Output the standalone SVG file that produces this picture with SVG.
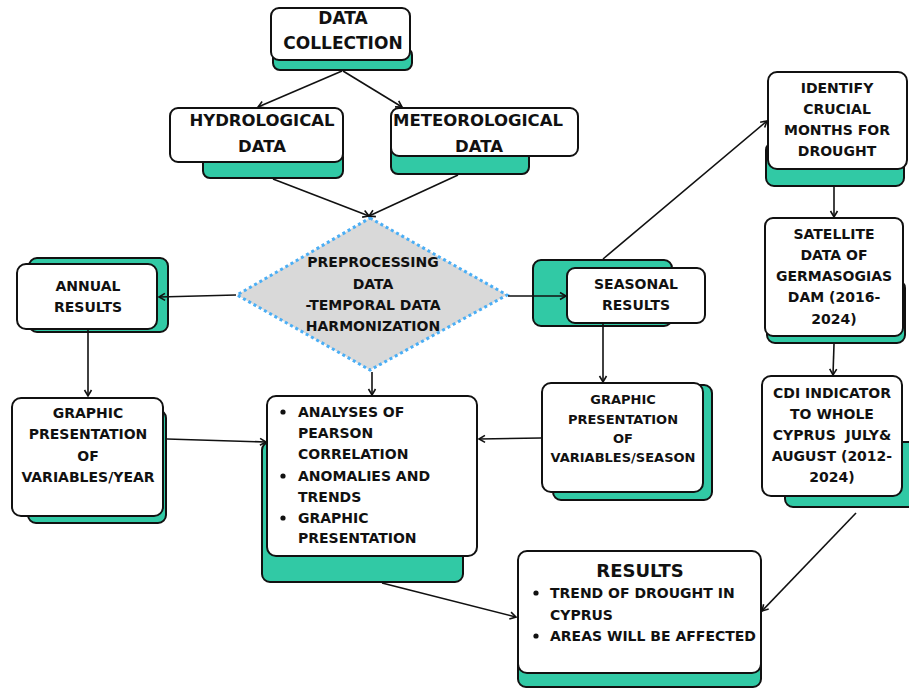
<svg xmlns="http://www.w3.org/2000/svg" width="909" height="688" viewBox="0 0 909 688">
<defs>
<marker id="ah" markerWidth="10" markerHeight="10" refX="8" refY="5" orient="auto" markerUnits="userSpaceOnUse">
<path d="M2,1.5 L8,5 L2,8.5" fill="none" stroke="#111" stroke-width="1.6"/>
</marker>
<style>
.g{fill:#31c9a5;stroke:#111;stroke-width:2}
.w{fill:#fff;stroke:#111;stroke-width:2}
.t{font-family:"DejaVu Sans",sans-serif;font-weight:bold;font-size:14px;fill:#111;text-anchor:middle}
.l{text-anchor:start}
.c{fill:none;stroke:#111;stroke-width:1.6}
</style>
</defs>
<rect width="909" height="688" fill="#fff"/>

<g id="data-collection">
<rect class="g" x="273" y="48" width="139" height="22" rx="7"/>
<rect class="w" x="271" y="8" width="139" height="52" rx="8"/>
<text class="t" x="343" y="24" style="font-size:17px">DATA</text>
<text class="t" x="343" y="49" style="font-size:17px">COLLECTION</text>
</g>

<g id="hydrological">
<rect class="g" x="203" y="150" width="140" height="28" rx="7"/>
<rect class="w" x="170" y="108" width="173" height="54" rx="8"/>
<text class="t" x="262" y="126" style="font-size:16.5px">HYDROLOGICAL</text>
<text class="t" x="262" y="152" style="font-size:16.5px">DATA</text>
</g>

<g id="meteorological">
<rect class="g" x="391" y="140" width="138" height="34" rx="7"/>
<rect class="w" x="391" y="108" width="187" height="48" rx="8"/>
<text class="t" x="478" y="126" style="font-size:16.5px">METEOROLOGICAL</text>
<text class="t" x="479" y="152" style="font-size:16.5px">DATA</text>
</g>

<g id="preprocessing">
<polygon points="370,218 507,295 370,370 237,295" fill="#d9d9d9" stroke="#4aaef5" stroke-width="3" stroke-dasharray="3 3"/>
<text class="t" x="373" y="267">PREPROCESSING</text>
<text class="t" x="373" y="289">DATA</text>
<text class="t" x="373" y="310">-TEMPORAL DATA</text>
<text class="t" x="373" y="331">HARMONIZATION</text>
</g>

<g id="annual">
<rect class="g" x="29" y="258" width="139" height="74" rx="8"/>
<rect class="w" x="17" y="264" width="140" height="65" rx="9"/>
<text class="t" x="88" y="291">ANNUAL</text>
<text class="t" x="88" y="312">RESULTS</text>
</g>

<g id="seasonal">
<rect class="g" x="533" y="260" width="139" height="66" rx="8"/>
<rect class="w" x="567" y="268" width="138" height="55" rx="8"/>
<text class="t" x="636" y="289">SEASONAL</text>
<text class="t" x="636" y="310">RESULTS</text>
</g>

<g id="identify">
<rect class="g" x="766" y="142" width="138" height="44" rx="8"/>
<rect class="w" x="768" y="72" width="139" height="97" rx="9"/>
<text class="t" x="837" y="93">IDENTIFY</text>
<text class="t" x="837" y="114">CRUCIAL</text>
<text class="t" x="837" y="135">MONTHS FOR</text>
<text class="t" x="837" y="156">DROUGHT</text>
</g>

<g id="satellite">
<rect class="g" x="767" y="280" width="138" height="63" rx="8"/>
<rect class="w" x="765" y="218" width="138" height="118" rx="8"/>
<text class="t" x="834" y="239">SATELLITE</text>
<text class="t" x="834" y="260">DATA OF</text>
<text class="t" x="834" y="281">GERMASOGIAS</text>
<text class="t" x="834" y="302">DAM (2016-</text>
<text class="t" x="834" y="324">2024)</text>
</g>

<g id="cdi">
<rect class="g" x="785" y="442" width="132" height="65" rx="8"/>
<rect class="w" x="762" y="376" width="140" height="120" rx="9"/>
<text class="t" x="832" y="398">CDI INDICATOR</text>
<text class="t" x="832" y="419">TO WHOLE</text>
<text class="t" x="832" y="440" xml:space="preserve">CYPRUS  JULY&amp;</text>
<text class="t" x="832" y="461">AUGUST (2012-</text>
<text class="t" x="832" y="482">2024)</text>
</g>

<g id="graphic-year">
<rect class="g" x="28" y="410" width="138" height="113" rx="8"/>
<rect class="w" x="12" y="398" width="151" height="118" rx="9"/>
<text class="t" x="88" y="418">GRAPHIC</text>
<text class="t" x="88" y="439">PRESENTATION</text>
<text class="t" x="88" y="461">OF</text>
<text class="t" x="88" y="482">VARIABLES/YEAR</text>
</g>

<g id="graphic-season">
<rect class="g" x="553" y="385" width="159" height="115" rx="8"/>
<rect class="w" x="542" y="383" width="161" height="109" rx="9"/>
<text class="t" x="623" y="404" style="font-size:13px">GRAPHIC</text>
<text class="t" x="623" y="424" style="font-size:13px">PRESENTATION</text>
<text class="t" x="623" y="443" style="font-size:13px">OF</text>
<text class="t" x="623" y="462" style="font-size:13px">VARIABLES/SEASON</text>
</g>

<g id="analyses">
<rect class="g" x="262" y="442" width="201" height="140" rx="8"/>
<rect class="w" x="267" y="396" width="210" height="160" rx="9"/>
<circle cx="283" cy="412" r="2.6" fill="#111"/>
<circle cx="283" cy="476" r="2.6" fill="#111"/>
<circle cx="283" cy="518" r="2.6" fill="#111"/>
<text class="t l" x="298" y="417">ANALYSES OF</text>
<text class="t l" x="298" y="438">PEARSON</text>
<text class="t l" x="298" y="459">CORRELATION</text>
<text class="t l" x="298" y="481">ANOMALIES AND</text>
<text class="t l" x="298" y="502">TRENDS</text>
<text class="t l" x="298" y="523">GRAPHIC</text>
<text class="t l" x="298" y="543">PRESENTATION</text>
</g>

<g id="results">
<rect class="g" x="518" y="655" width="243" height="32" rx="8"/>
<rect class="w" x="518" y="551" width="243" height="122" rx="9"/>
<text class="t" x="640" y="577" style="font-size:18px">RESULTS</text>
<circle cx="536" cy="593" r="2.6" fill="#111"/>
<circle cx="536" cy="636" r="2.6" fill="#111"/>
<text class="t l" x="550" y="598">TREND OF DROUGHT IN</text>
<text class="t l" x="550" y="620">CYPRUS</text>
<text class="t l" x="550" y="641">AREAS WILL BE AFFECTED</text>
</g>

<g id="connectors">
<line class="c" x1="342" y1="71" x2="258" y2="107" marker-end="url(#ah)"/>
<line class="c" x1="343" y1="71" x2="402" y2="107" marker-end="url(#ah)"/>
<line class="c" x1="273" y1="179" x2="369" y2="216" marker-end="url(#ah)"/>
<line class="c" x1="458" y1="175" x2="369" y2="216" marker-end="url(#ah)"/>
<line class="c" x1="236" y1="295" x2="159" y2="297" marker-end="url(#ah)"/>
<line class="c" x1="508" y1="296" x2="566" y2="296" marker-end="url(#ah)"/>
<line class="c" x1="88" y1="330" x2="88" y2="396" marker-end="url(#ah)"/>
<line class="c" x1="372" y1="372" x2="372" y2="395" marker-end="url(#ah)"/>
<line class="c" x1="167" y1="439" x2="266" y2="442" marker-end="url(#ah)"/>
<line class="c" x1="603" y1="324" x2="603" y2="382" marker-end="url(#ah)"/>
<line class="c" x1="541" y1="438" x2="479" y2="439" marker-end="url(#ah)"/>
<line class="c" x1="603" y1="259" x2="767" y2="121" marker-end="url(#ah)"/>
<line class="c" x1="834" y1="187" x2="834" y2="217" marker-end="url(#ah)"/>
<line class="c" x1="834" y1="344" x2="833" y2="375" marker-end="url(#ah)"/>
<line class="c" x1="856" y1="513" x2="762" y2="611" marker-end="url(#ah)"/>
<line class="c" x1="382" y1="583" x2="516" y2="617" marker-end="url(#ah)"/>
</g>
</svg>
